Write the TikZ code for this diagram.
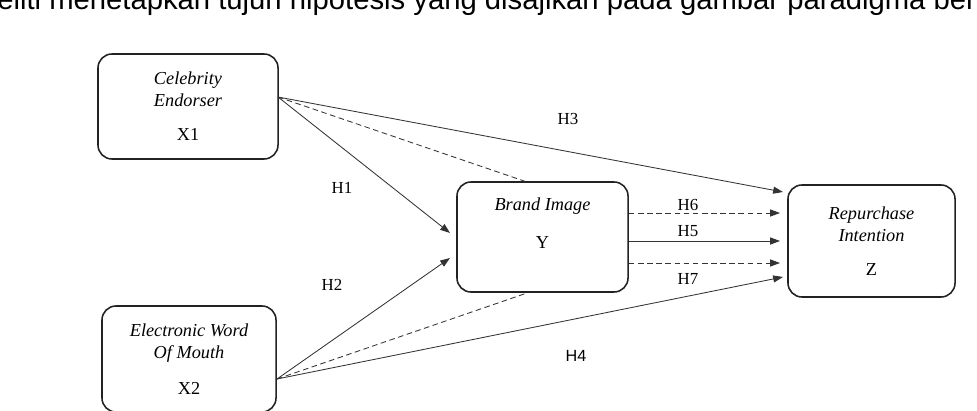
\documentclass[tikz,border=0pt]{standalone}
\usepackage{fontspec}
\setmainfont{Liberation Serif}
\newfontfamily\arialfont{Liberation Sans}
\usepackage{xcolor}
\usepackage{tikz}
\usetikzlibrary{positioning,calc,arrows.meta}
\definecolor{boxline}{HTML}{222222}
\definecolor{linkline}{HTML}{333333}

\tikzset{
  varbox/.style={draw=boxline, line width=1.1pt, rounded corners=10pt, align=center,
    font=\fontsize{13}{15.5}\selectfont, inner sep=0pt},
  link/.style={draw=linkline, line width=0.6pt, -{Triangle[length=7pt,width=5pt]}},
  dashlink/.style={link, dash pattern=on 4pt off 2.5pt},
  hlabel/.style={font=\fontsize{12}{13}\selectfont}
}

\begin{document}
\begin{tikzpicture}[x=0.025cm, y=-0.025cm]
  \useasboundingbox (0,0) rectangle (977,411);
  \clip (0,0) rectangle (977,411);
  \fill[white] (0,0) rectangle (977,411);

  % Cut-off line of text above the figure
  \node[anchor=base west, inner sep=0pt, font=\arialfont\fontsize{20.8}{23}\selectfont]
    (intro) at (-3,10) {eliti menetapkan tujuh hipotesis yang disajikan pada gambar paradigma ber};

  % Variables
  \node[varbox, minimum width=4.5cm, minimum height=2.625cm] (x1) at (188,106.5)
    {\textit{Celebrity}\\\textit{Endorser}\\[9pt]X1};
  \node[varbox, minimum width=4.35cm, minimum height=2.65cm] (x2) at (189,359)
    {\textit{Electronic Word}\\\textit{Of Mouth}\\[10pt]X2};
  \node[varbox, minimum width=4.275cm, minimum height=2.75cm] (y) at (542.5,237)
    {\textit{Brand Image}\\[11pt]Y\\[4pt]};
  \node[varbox, minimum width=4.175cm, minimum height=2.8cm] (z) at (871.5,241)
    {\textit{Repurchase}\\\textit{Intention}\\[9pt]Z};

  % Connector end points
  \coordinate (x1out) at (278,97);
  \coordinate (x2out) at (277,379);
  \coordinate (yin1) at (450,233);
  \coordinate (yin2) at (450,258);
  \coordinate (ytop) at (527,182);
  \coordinate (ybot) at (527,293);
  \coordinate (zin3) at (783,192);
  \coordinate (zin4) at (783,277);

  % Direct paths
  \draw[link] (x1out) -- (yin1);
  \draw[link] (x2out) -- (yin2);
  \draw[link] (x1out) -- (zin3);
  \draw[link] (x2out) -- (zin4);

  % Mediated paths through Y
  \draw[dashlink, -] (x1out) -- (ytop);
  \draw[dashlink, -] (x2out) -- (ybot);

  % Y to Z
  \draw[dashlink] (y.east |- 0,213) -- (780,213);
  \draw[link] (y.east |- 0,241) -- (780,241);
  \draw[dashlink] (y.east |- 0,263) -- (780,263);

  % Hypothesis labels
  \node[hlabel] (h1) at (342,188) {H1};
  \node[hlabel] (h2) at (332,285) {H2};
  \node[hlabel] (h3) at (568,119) {H3};
  \node[hlabel, font=\arialfont\fontsize{11.5}{13}\selectfont] (h4) at (576,356) {H4};
  \node[hlabel] (h6) at (688,205) {H6};
  \node[hlabel] (h5) at (688,231) {H5};
  \node[hlabel] (h7) at (688,279) {H7};
\end{tikzpicture}
\end{document}
